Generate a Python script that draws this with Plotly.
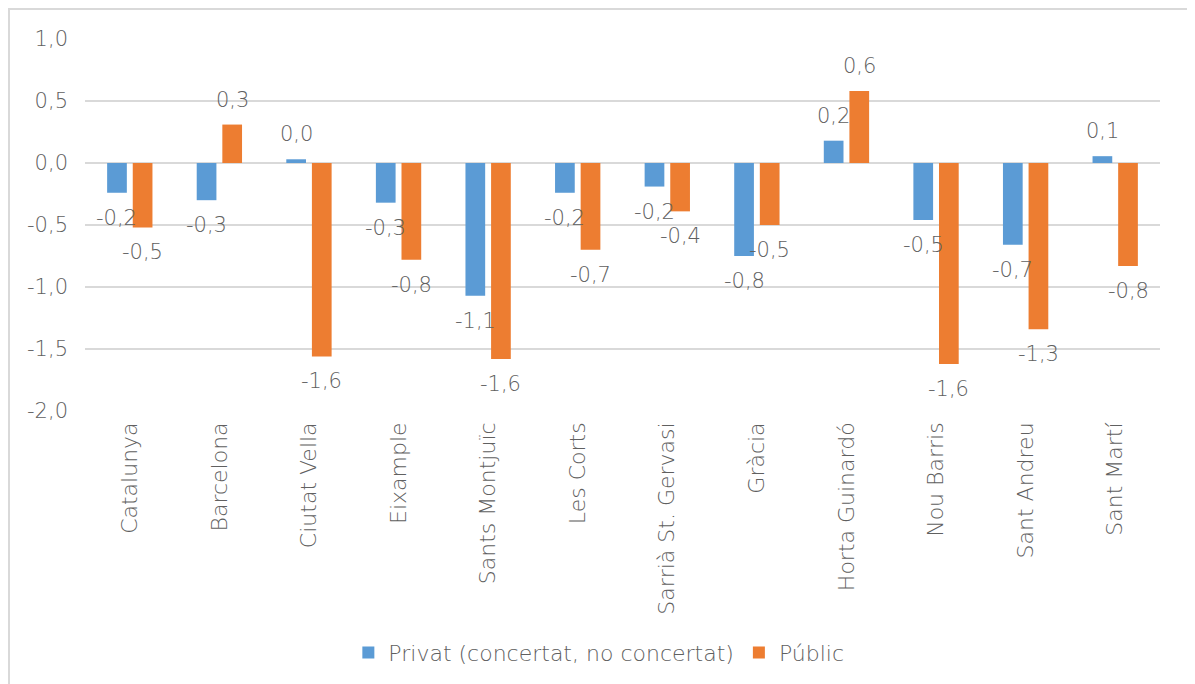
import plotly.graph_objects as go

categories = ["Catalunya", "Barcelona", "Ciutat Vella", "Eixample", "Sants Montjuïc",
              "Les Corts", "Sarrià St. Gervasi", "Gràcia", "Horta Guinardó",
              "Nou Barris", "Sant Andreu", "Sant Martí"]
privat = [-0.24, -0.30, 0.03, -0.32, -1.07, -0.24, -0.19, -0.75, 0.18, -0.46, -0.66, 0.055]
public = [-0.52, 0.31, -1.56, -0.78, -1.58, -0.70, -0.39, -0.50, 0.58, -1.62, -1.34, -0.83]
privat_labels = ["-0,2", "-0,3", "0,0", "-0,3", "-1,1", "-0,2", "-0,2", "-0,8", "0,2", "-0,5", "-0,7", "0,1"]
public_labels = ["-0,5", "0,3", "-1,6", "-0,8", "-1,6", "-0,7", "-0,4", "-0,5", "0,6", "-1,6", "-1,3", "-0,8"]
y_tickvals = [1.0, 0.5, 0.0, -0.5, -1.0, -1.5, -2.0]
y_ticktext = ["1,0", "0,5", "0,0", "-0,5", "-1,0", "-1,5", "-2,0"]

BLUE = "#5B9BD5"
ORANGE = "#ED7D31"
GREY = "#606060"
GRID = "#d9d9d9"
FONT = "DejaVu Sans"
WEIGHT = 300
FS = 21
FS_CAT = 22
BW = 0.22
OFF_P = -0.253
OFF_Q = 0.033

fig = go.Figure()
fig.add_trace(go.Bar(x=categories, y=privat, name="Privat (concertat, no concertat)",
                     marker=dict(color=BLUE, line=dict(width=0)), width=BW, offset=OFF_P))
fig.add_trace(go.Bar(x=categories, y=public, name="Públic",
                     marker=dict(color=ORANGE, line=dict(width=0)), width=BW, offset=OFF_Q))

annotations = []
for vals, labs, off in ((privat, privat_labels, OFF_P), (public, public_labels, OFF_Q)):
    for i, (v, t) in enumerate(zip(vals, labs)):
        annotations.append(dict(x=i + off + BW / 2, y=v, xref="x", yref="y", text=t,
                                showarrow=False, yshift=25 if v >= 0 else -25,
                                font=dict(family=FONT, size=FS, color=GREY, weight=WEIGHT)))

# page body has an 8px margin: figure is sized/shifted to compensate
fig.update_layout(
    width=1187, height=676,
    margin=dict(l=77, r=35, t=31, b=272),
    paper_bgcolor="white", plot_bgcolor="white",
    barmode="group",
    font=dict(family=FONT, size=FS, color=GREY, weight=WEIGHT),
    showlegend=True,
    legend=dict(orientation="h", x=0.478, xanchor="center", y=-0.645, yanchor="middle",
                font=dict(family=FONT, size=FS_CAT, color=GREY, weight=WEIGHT), itemwidth=30),
    annotations=annotations,
    shapes=[dict(type="rect", xref="paper", yref="paper", x0=-0.0707, x1=1.0288,
                 y0=-0.772, y1=1.0804, line=dict(color=GRID, width=2), layer="below")],
)
fig.update_yaxes(range=[-2, 1], tickvals=y_tickvals, ticktext=y_ticktext,
                 showgrid=True, gridcolor=GRID, gridwidth=1.5,
                 zeroline=True, zerolinecolor=GRID, zerolinewidth=1.5,
                 showline=False, ticks="", ticklabelstandoff=16,
                 tickfont=dict(family=FONT, size=FS, color=GREY, weight=WEIGHT))
fig.update_xaxes(tickangle=-90, showgrid=False, showline=False, ticks="",
                 ticklabelstandoff=6,
                 tickfont=dict(family=FONT, size=FS_CAT, color=GREY, weight=WEIGHT))

fig.write_html("out.html")
